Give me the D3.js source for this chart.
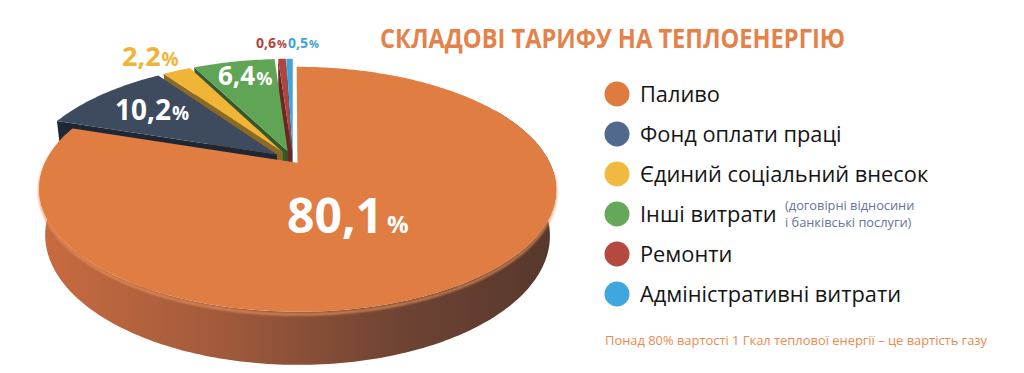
<!DOCTYPE html>
<html>
<head>
<meta charset="utf-8">
<script src="https://cdn.jsdelivr.net/npm/d3@7"></script>
<style>
  body{margin:0;background:#fff;}
  svg{display:block;font-family:'Open Sans',sans-serif;}
</style>
</head>
<body>
<svg id="chart" width="1024" height="373"></svg>
<script>
// data
const categories = ['Паливо','Фонд оплати праці','Єдиний соціальний внесок','Інші витрати','Ремонти','Адміністративні витрати']
const values = [80.1, 10.2, 2.2, 6.4, 0.6, 0.5]
const title = 'СКЛАДОВІ ТАРИФУ НА ТЕПЛОЕНЕРГІЮ'
const note = ['(договірні відносини','і банківські послуги)']
const footer = 'Понад 80% вартості 1 Гкал теплової енергії – це вартість газу'

// colours
const topColors = ['#df7d42','#3e4b5f','#f0b437','#5fa555','#b1443d','#3fa3dc']
const sideColors = ['#8a4a32','#1f2735','#8c6a25','#33582d','#6a2824','#23648c']
const legendColors = ['#e07b40','#50698c','#f2b940','#66a85a','#b5483f','#40a6de']
const labelColors = ['#fff','#fff','#f0b437','#fff','#b1443d','#3fa3dc']

const svg = d3.select('#chart')

// fake 3d camera (perspective, tilted disc)
const cam = {cx:293, cy:160, f:1038, d:4.134, tilt:27.4*Math.PI/180}
const H = 0.207       // disc thickness
const EXPLODE = 0.08  // small slices pulled out
const EXPLODE_BIG = 0.03

function project(X,Y,Z){
    const c = Math.cos(cam.tilt), s = Math.sin(cam.tilt)
    const depth = cam.d - (Z*c + Y*s)
    return [cam.cx + cam.f*X/depth, cam.cy + cam.f*(Z*s - Y*c)/depth]
}
function pt(a,r,y,off){
    return project(r*Math.sin(a)+off[0], y, -r*Math.cos(a)+off[1])
}
function rim(a0,a1,y,off){
    const n = Math.max(2, Math.ceil((a1-a0)/(Math.PI/180)))
    return d3.range(n+1).map(i=>pt(a0+(a1-a0)*i/n,1,y,off))
}
function offset(a,e){
    const mid = (a.startAngle+a.endAngle)/2
    return [e*Math.sin(mid), -e*Math.cos(mid)]
}
const line = d3.line()
const poly = p => line(p)+'Z'

const arcs = d3.pie().sort(null).value(d=>d)(values)
const color = d3.scaleOrdinal().domain(categories).range(topColors)

// gradient for the orange side
const defs = svg.append('defs')
const grad = defs.append('linearGradient').attr('id','side')
    .attr('gradientUnits','userSpaceOnUse').attr('x1',40).attr('x2',556).attr('y1',0).attr('y2',0)
grad.selectAll('stop').data([[0,'#c96b40'],[0.35,'#a15a3b'],[0.7,'#6e4333'],[1,'#56382c']])
    .join('stop').attr('offset',d=>d[0]).attr('stop-color',d=>d[1])
defs.append('filter').attr('id','soft').append('feGaussianBlur').attr('stdDeviation',1.2)

const g = svg.append('g')

// small slices, back to front
arcs.slice(1).reverse().forEach(a=>{
    const i = a.index
    const off = offset(a,EXPLODE)
    const face = [pt(a.startAngle,0,0,off), pt(a.startAngle,1,0,off), pt(a.startAngle,1,-H,off), pt(a.startAngle,0,-H,off)]
    g.append('path').attr('d',poly(face)).attr('fill',sideColors[i])
    g.append('path').attr('d',poly([pt(0,0,0,off)].concat(rim(a.startAngle,a.endAngle,0,off))))
        .attr('fill',color(categories[i]))
})

// big slice
const big = arcs[0]
const bo = offset(big,EXPLODE_BIG)
const a0 = Math.PI/3, a1 = big.endAngle
const side = rim(a0,a1,0,bo).concat(rim(a0,a1,-H,bo).reverse())
g.append('path').attr('d',poly(side)).attr('fill','url(#side)')
g.append('path').attr('d',line(rim(Math.PI*0.52,a1-0.05,-0.01,bo)))
    .attr('fill','none').attr('stroke','#e9935c').attr('stroke-width',2.5).attr('opacity',0.8).attr('filter','url(#soft)')
g.append('path').attr('d',poly([pt(0,0,0,bo)].concat(rim(big.startAngle,big.endAngle,0,bo))))
    .attr('fill',color(categories[0]))

// value labels
const fmt = v => String(v).replace('.',',')
const labelLayout = [
    {x:287,y:233,fs:48,ps:24},
    {x:115,y:120,fs:28,ps:19},
    {x:122,y:66,fs:27,ps:19},
    {x:218,y:85,fs:26,ps:18},
    {x:256,y:48,fs:14,ps:11},
    {x:288,y:48,fs:14,ps:11}
]
labelLayout.forEach((l,i)=>{
    const t = svg.append('text').attr('x',l.x).attr('y',l.y)
        .attr('fill',labelColors[i]).attr('font-weight',700).attr('font-size',l.fs)
    t.append('tspan').text(fmt(values[i]))
    t.append('tspan').attr('font-size',l.ps).attr('dx',i==0?4:1).text('%')
})

// title
svg.append('text').attr('x',380).attr('y',48).attr('font-size',26).attr('font-weight',700)
    .attr('fill','#e4824a').attr('textLength',465).attr('lengthAdjust','spacingAndGlyphs').text(title)

// legend
const legend = svg.append('g')
legend.selectAll('circle').data(categories).join('circle')
    .attr('cx',617).attr('cy',(d,i)=>94+40*i).attr('r',12.5).attr('fill',(d,i)=>legendColors[i])
legend.selectAll('text').data(categories).join('text')
    .attr('x',640).attr('y',(d,i)=>102+40*i).attr('font-size',21.8).attr('fill','#151515').text(d=>d)

svg.selectAll('.note').data(note).join('text').attr('class','note')
    .attr('x',785).attr('y',(d,i)=>210+17*i).attr('font-size',12.8).attr('fill','#5f74a0').text(d=>d)

svg.append('text').attr('x',605).attr('y',345).attr('font-size',12.9).attr('fill','#e98a4f').text(footer)
</script>
</body>
</html>
